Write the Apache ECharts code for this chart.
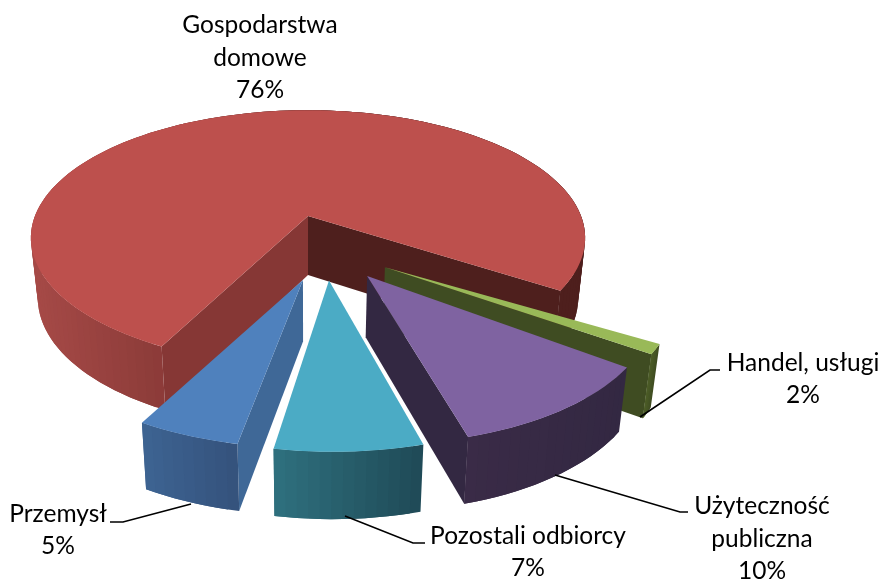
<!DOCTYPE html>
<html>
<head>
<meta charset="utf-8">
<style>html,body{margin:0;padding:0;background:#fff}#chart{width:883px;height:581px}</style>
<script src="https://cdn.jsdelivr.net/npm/echarts@6/dist/echarts.min.js"></script>
</head>
<body>
<div id="chart"></div>
<script>
var categories = ['Gospodarstwa\ndomowe', 'Handel, usługi', 'Użyteczność\npubliczna', 'Pozostali odbiorcy', 'Przemysł'];
var shares = [76, 2, 10, 7, 5];

// pie geometry, the picture is a perspective 3D pie
var CX = 308, CY = 216, RX = 273, RY = 124, PERSP = 0.172, DEPTH = 59, START = 207;

// per slice: explode offset in plane units, radius scale, small angle corrections (the original's 3D view skews them)
var layouts = [
    {ex: 0, ey: 0, r: 1, d0: 0, d1: 2.5},
    {ex: 0.263, ey: 0.385, r: 0.965, d0: 0, d1: -3},
    {ex: 0.2, ey: 0.447, r: 0.95, d0: -1.5, d1: 1},
    {ex: 0.0705, ey: 0.478, r: 0.955, d0: 1, d1: 1},
    {ex: -0.017, ey: 0.474, r: 0.94, d0: 2, d1: 2}
];
var looks = [
    {top: '#bd504d', cutA: '#863735', cutB: '#4e1f1d', wall: ['#a64a47', '#8a3a38', '#4e1f1d', '#4e1f1d', '#4e1f1d']},
    {top: '#99b958', cutA: '#3f4c22', cutB: '#3f4c22', wall: ['#4d5e28', '#3f4c22']},
    {top: '#7f63a1', cutA: '#332842', cutB: '#332842', wall: ['#3a2b47', '#332842']},
    {top: '#4babc5', cutA: '#2e6f7f', cutB: '#1f4a56', wall: ['#2f707f', '#1f4a56']},
    {top: '#4f81bd', cutA: '#3f6897', cutB: '#34527c', wall: ['#3d6492', '#34527c']}
];
var labelPos = [[260, 58], [803, 379], [762, 539], [528, 552], [58, 530]];
var leaders = [
    null,
    [[640, 417], [710, 370], [720, 370]],
    [[555, 475], [680, 512], [688, 512]],
    [[345, 516], [413, 543], [425, 543]],
    [[191, 504], [123, 522], [110, 522]]
];

function project(u, v) {
    var s = 1 / (1 - PERSP * v);
    return [CX + RX * u * s, CY + RY * v * s];
}
function lower(p) {
    return [CX + (p[0] - CX) * 0.975, p[1] + DEPTH * (1 + (p[1] - CY) * 0.0006)];
}
function rimPoint(lay, deg) {
    var a = deg * Math.PI / 180;
    return project(lay.ex + lay.r * Math.sin(a), lay.ey - lay.r * Math.cos(a));
}
function poly(points, fill) {
    return {type: 'polygon', shape: {points: points}, style: {fill: fill, stroke: null}};
}
function area(pts) {
    var s = 0;
    for (var i = 0; i < pts.length; i++) {
        var a = pts[i], b = pts[(i + 1) % pts.length];
        s += a[0] * b[1] - b[0] * a[1];
    }
    return s;
}

function renderSlice(params, api) {
    var i = params.dataIndex;
    var lay = layouts[i], look = looks[i];
    var before = 0;
    for (var k = 0; k < i; k++) before += shares[k];
    var a0 = START + before * 3.6 + lay.d0;
    var a1 = START + (before + api.value(0)) * 3.6 + lay.d1;

    var apex = project(lay.ex, lay.ey);
    var steps = Math.max(6, Math.round((a1 - a0) / 2));
    var rim = [];
    for (var j = 0; j <= steps; j++) rim.push(rimPoint(lay, a0 + (a1 - a0) * j / steps));
    var first = rim[0], last = rim[rim.length - 1];

    var children = [];
    // cut faces, only those turned to the viewer
    var faceA = [apex, first, lower(first), lower(apex)];
    var faceB = [last, apex, lower(apex), lower(last)];
    if (area(faceA) < 0) children.push(poly(faceA, look.cutA));
    if (area(faceB) < 0) children.push(poly(faceB, look.cutB));

    // outer wall in overlapping strips, shaded by x like the banding in the original
    var xs = rim.map(function (p) { return p[0]; });
    var minX = Math.min.apply(null, xs), maxX = Math.max.apply(null, xs);
    for (var n = 0; n < steps; n++) {
        var nx = Math.min(n + 2, steps);
        var t = ((rim[n][0] + rim[n + 1][0]) / 2 - minX) / (maxX - minX);
        children.push(poly([rim[n], rim[n + 1], rim[nx], lower(rim[nx]), lower(rim[n + 1]), lower(rim[n])],
            echarts.color.lerp(t, look.wall)));
    }
    children.push(poly([apex].concat(rim), look.top));

    if (leaders[i]) {
        children.push({type: 'polyline', shape: {points: leaders[i]}, style: {stroke: '#000', lineWidth: 1.6, fill: null}});
    }
    children.push({
        type: 'text',
        style: {
            text: categories[i] + '\n' + api.value(0) + '%',
            x: labelPos[i][0], y: labelPos[i][1],
            align: 'center', verticalAlign: 'middle',
            fontFamily: 'Lato', fontSize: 24.5, lineHeight: 32.5, fill: '#000'
        }
    });
    return {type: 'group', children: children};
}

var myChart = echarts.init(document.getElementById('chart'), null, {renderer: 'canvas'});
var option = {
    animation: false,
    backgroundColor: '#fff',
    series: [{
        type: 'custom',
        coordinateSystem: 'none',
        silent: true,
        renderItem: renderSlice,
        data: shares.map(function (v) { return [v]; })
    }]
};
myChart.setOption(option);
</script>
</body>
</html>
